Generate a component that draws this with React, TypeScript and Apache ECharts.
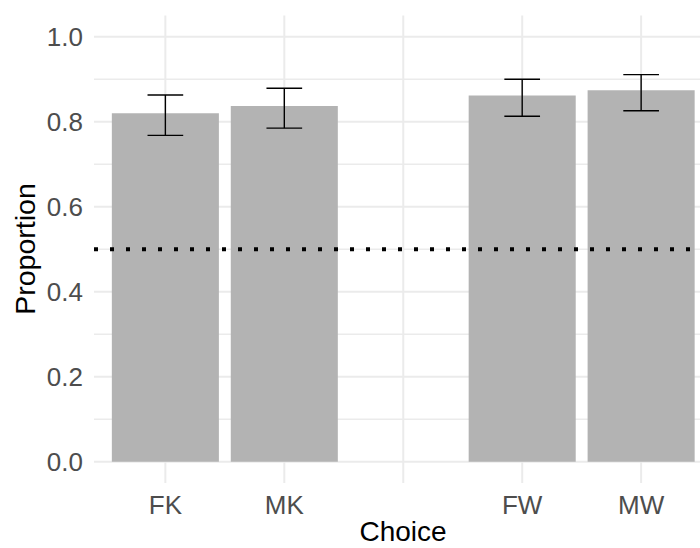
import React, { useEffect, useRef } from "react";
import * as echarts from "echarts";

const categories = ["FK", "MK", "", "FW", "MW"];
const barCategories = ["FK", "MK", "FW", "MW"];
const proportions = [0.82, 0.837, 0.862, 0.874];
const lowerCI = [0.768, 0.785, 0.813, 0.826];
const upperCI = [0.863, 0.879, 0.9, 0.911];
const yMajorTicks = [0, 0.2, 0.4, 0.6, 0.8, 1.0];
const yMinorTicks = [0.1, 0.3, 0.5, 0.7, 0.9];
const referenceLine = 0.5;

export default function App() {
  const ref = useRef<HTMLDivElement>(null);
  useEffect(() => {
    if (!ref.current) return;
    const chart = echarts.init(ref.current, null, { renderer: "svg" });
    const xMin = -0.6;
    const xMax = categories.length - 1 + 0.6;
    const barData = barCategories.map((c, i) => [categories.indexOf(c), proportions[i]]);
    const errData = barCategories.map((c, i) => [categories.indexOf(c), lowerCI[i], upperCI[i]]);
    const gridData: any[] = [
      ...yMinorTicks.map((v) => ["h", v, 1.5]),
      ...yMajorTicks.map((v) => ["h", v, 2]),
      ...categories.map((_, i) => ["v", i, 2]),
    ];
    const font = "'Liberation Sans', Arial, sans-serif";
    chart.setOption({
      animation: false,
      grid: { left: 94, top: 15.5, width: 618.5, height: 467.5, containLabel: false },
      xAxis: {
        type: "value",
        min: xMin,
        max: xMax,
        axisLine: { show: false },
        axisTick: { show: false },
        splitLine: { show: false },
        axisLabel: {
          customValues: categories.map((_, i) => i).filter((i) => categories[i] !== ""),
          formatter: (v: number) => categories[Math.round(v)],
          fontSize: 26,
          lineHeight: 26,
          color: "#4D4D4D",
          fontFamily: font,
          margin: 9,
        },
      },
      yAxis: {
        type: "value",
        min: -0.05,
        max: 1.05,
        axisLine: { show: false },
        axisTick: { show: false },
        splitLine: { show: false },
        axisLabel: {
          customValues: yMajorTicks,
          formatter: (v: number) => v.toFixed(1),
          fontSize: 26,
          color: "#4D4D4D",
          fontFamily: font,
          margin: 11,
        },
      },
      graphic: [
        {
          type: "text",
          x: 403,
          y: 531.5,
          style: { text: "Choice", fontSize: 28, fontFamily: font, fill: "#000", textAlign: "center", textVerticalAlign: "middle" },
        },
        {
          type: "text",
          x: 25,
          y: 249,
          rotation: Math.PI / 2,
          style: { text: "Proportion", fontSize: 28.5, fontFamily: font, fill: "#000", textAlign: "center", textVerticalAlign: "middle" },
        },
      ],
      series: [
        {
          type: "custom",
          z: 1,
          silent: true,
          clip: false,
          data: gridData,
          renderItem: (params: any, api: any) => {
            const kind = gridData[params.dataIndex][0];
            const v = api.value(1);
            const w = api.value(2);
            let p0, p1;
            if (kind === "h") {
              p0 = api.coord([xMin, v]);
              p1 = api.coord([xMax, v]);
            } else {
              p0 = api.coord([v, -0.05]);
              p1 = api.coord([v, 1.05]);
            }
            return {
              type: "line",
              shape: { x1: p0[0], y1: p0[1], x2: p1[0], y2: p1[1] },
              style: { stroke: "#EBEBEB", lineWidth: w },
            };
          },
        },
        {
          type: "custom",
          z: 2,
          silent: true,
          data: barData,
          renderItem: (params: any, api: any) => {
            const x = api.value(0);
            const y = api.value(1);
            const a = api.coord([x - 0.45, 0]);
            const b = api.coord([x + 0.45, y]);
            return {
              type: "rect",
              shape: { x: a[0], y: b[1], width: b[0] - a[0], height: a[1] - b[1] },
              style: { fill: "#B3B3B3" },
            };
          },
        },
        {
          type: "custom",
          z: 3,
          silent: true,
          clip: false,
          data: [[referenceLine]],
          renderItem: (params: any, api: any) => {
            const a = api.coord([xMin, api.value(0)]);
            const b = api.coord([xMax, api.value(0)]);
            return {
              type: "line",
              shape: { x1: a[0], y1: a[1], x2: b[0], y2: b[1] },
              style: { stroke: "#000", lineWidth: 3.8, lineDash: [4, 12], lineCap: "butt" },
            };
          },
        },
        {
          type: "custom",
          z: 4,
          silent: true,
          data: errData,
          renderItem: (params: any, api: any) => {
            const x = api.value(0);
            const lo = api.value(1);
            const hi = api.value(2);
            const top = api.coord([x, hi]);
            const bot = api.coord([x, lo]);
            const l = api.coord([x - 0.15, hi])[0];
            const r = api.coord([x + 0.15, hi])[0];
            const st = { stroke: "#000", lineWidth: 1.4 };
            return {
              type: "group",
              children: [
                { type: "line", shape: { x1: top[0], y1: top[1], x2: bot[0], y2: bot[1] }, style: st },
                { type: "line", shape: { x1: l, y1: top[1], x2: r, y2: top[1] }, style: st },
                { type: "line", shape: { x1: l, y1: bot[1], x2: r, y2: bot[1] }, style: st },
              ],
            };
          },
        },
      ],
    });
    return () => chart.dispose();
  }, []);
  return (
    <div
      style={{ position: "fixed", left: 0, top: 0, width: 700, height: 548, overflow: "hidden", background: "#fff" }}
    >
      <div ref={ref} style={{ width: 720, height: 548 }} />
    </div>
  );
}
